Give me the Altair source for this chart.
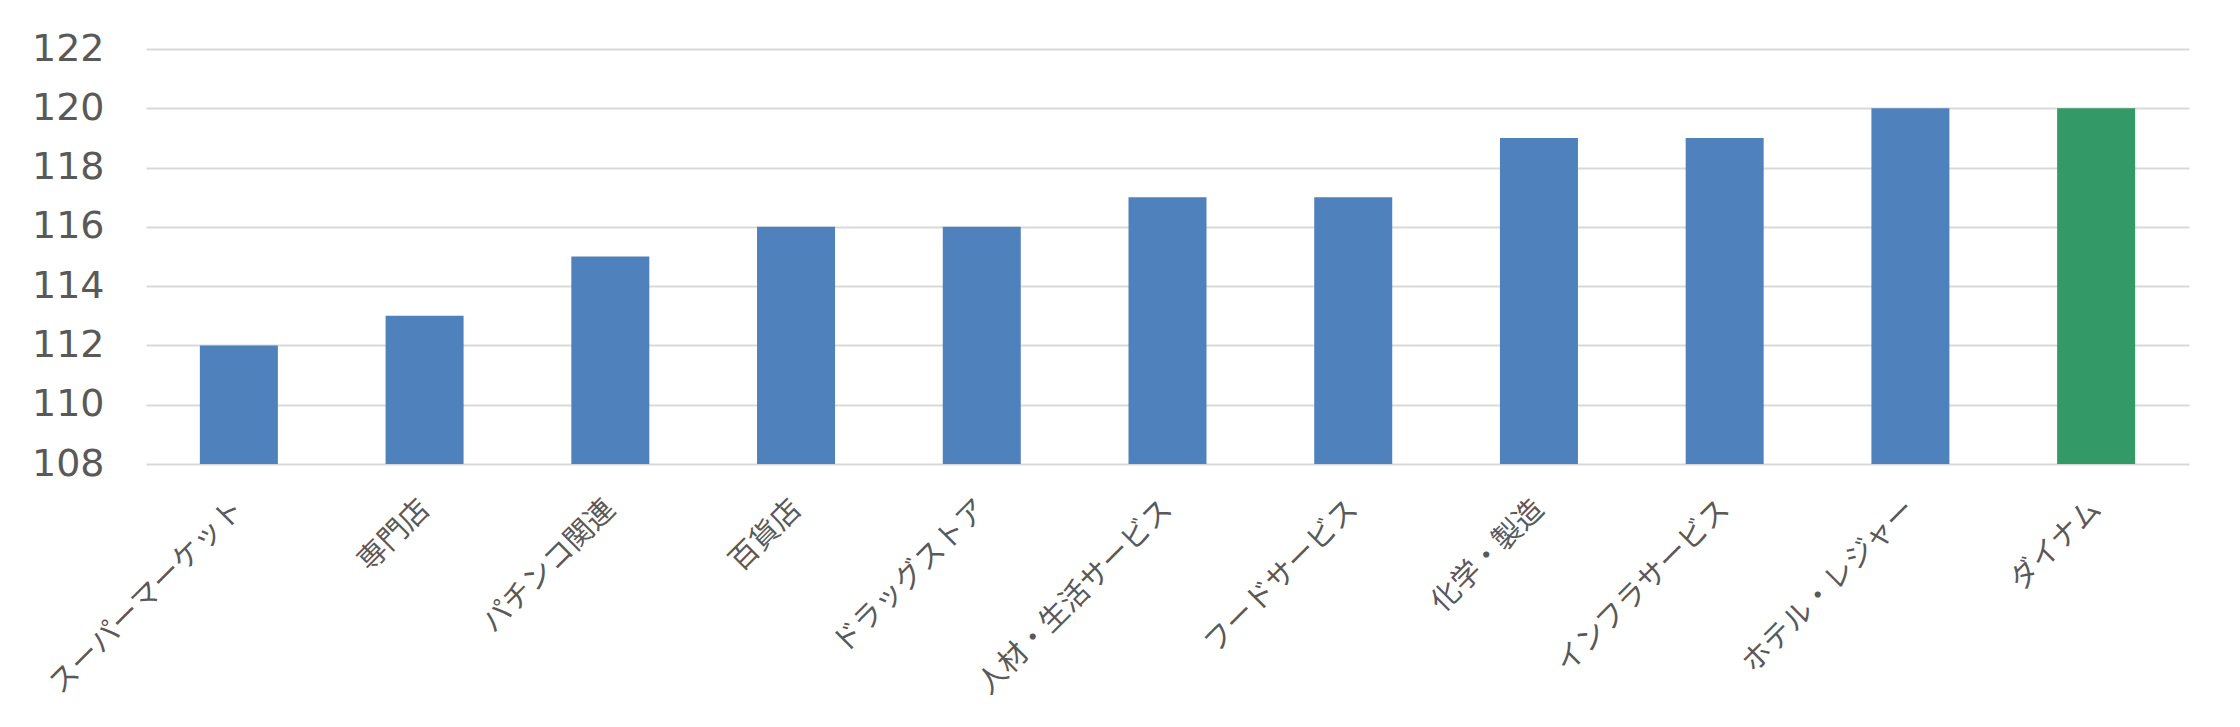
import altair as alt
import pandas as pd

categories = ["スーパーマーケット", "専門店", "パチンコ関連", "百貨店", "ドラッグストア",
              "人材・生活サービス", "フードサービス", "化学・製造", "インフラサービス",
              "ホテル・レジャー", "ダイナム"]
values = [112, 113, 115, 116, 116, 117, 117, 119, 119, 120, 120]
bar_colors = ["#4F81BD"] * 10 + ["#339966"]
y_ticks = [108, 110, 112, 114, 116, 118, 120, 122]
y_base = 108

df = pd.DataFrame({"category": categories, "value": values, "color": bar_colors})

chart = alt.Chart(df).mark_bar(clip=True).encode(
    x=alt.X("category:N", sort=categories, title=None,
            scale=alt.Scale(paddingInner=0.58, paddingOuter=0.29),
            axis=alt.Axis(labelAngle=-45, labelAlign="right", labelBaseline="middle",
                          labelFont="Noto Sans CJK JP", labelFontSize=29,
                          labelColor="#595959", labelPadding=40, ticks=False,
                          domain=False, grid=False, labelLimit=400)),
    y=alt.Y("value:Q", title=None,
            scale=alt.Scale(domain=[108, 122], zero=False, nice=False),
            axis=alt.Axis(values=y_ticks, labelFont="DejaVu Sans", labelFontSize=38,
                          labelColor="#595959", labelPadding=42, ticks=False,
                          domain=False, grid=True, gridColor="#D9D9D9", gridWidth=2)),
    y2=alt.datum(y_base),
    color=alt.Color("color:N", scale=None),
).properties(
    width=2043, height=415,
    autosize=alt.AutoSizeParams(type="none"),
    padding={"left": 138, "top": 41, "right": 43, "bottom": 250},
).configure_view(stroke=None)

chart.save("out.html", embed_options={"renderer": "svg", "actions": False})
